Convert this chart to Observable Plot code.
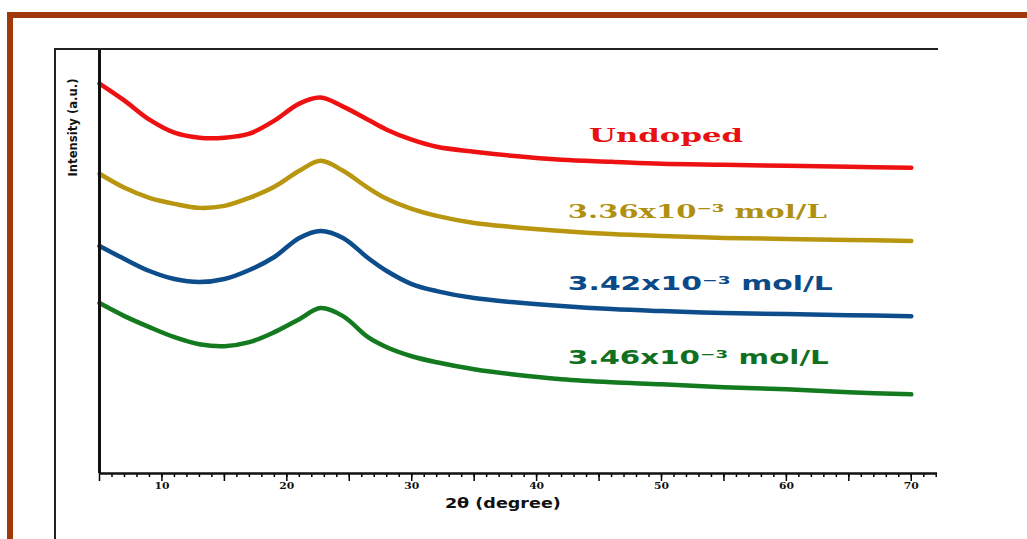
<!DOCTYPE html>
<html><head><meta charset="utf-8">
<script src="https://cdn.jsdelivr.net/npm/d3@7"></script>
<script src="https://cdn.jsdelivr.net/npm/@observablehq/plot@0.6"></script>
<style>
body{margin:0;background:#fff;}
#wrap{position:relative;width:1027px;height:539px;overflow:hidden;background:#fff;}
#wrap svg{position:absolute;left:0;top:0;}
.deco{position:absolute;}
</style></head><body>
<div id="wrap"></div>
<script>
const twoTheta = [5, 7, 9, 11, 13, 15, 17, 19, 21, 22.7, 24.5, 26.5, 28, 30, 32, 35, 38, 42, 46, 50, 55, 60, 65, 70];
// intensities (a.u., stacked/offset as in the figure)
const undoped = [389, 372, 353, 340, 335, 335, 339, 352, 369, 375, 366, 353, 343, 333, 326, 321, 317, 313, 311, 309, 308, 307, 306, 305];
const c336 = [299, 285, 275, 269, 265, 267, 275, 286, 302, 312, 302, 285, 274, 264, 257, 250, 246, 242, 239, 237, 235, 234, 233, 232];
const c342 = [227, 214, 202, 194, 191, 194, 203, 216, 235, 242, 235, 215, 202, 189, 182, 175, 171, 167, 164, 162, 160, 159, 158, 157];
const c346 = [170, 157, 146, 136, 129, 127, 131, 141, 154, 165, 157, 136, 126, 117, 111, 104, 99, 94, 91, 89, 86, 84, 81, 79];

const seriesNames = ["Undoped", "3.36x10⁻³ mol/L", "3.42x10⁻³ mol/L", "3.46x10⁻³ mol/L"];
const seriesColors = ["#ee1111", "#b8960f", "#0d4d8c", "#137a1f"];
const labelColors = ["#e81010", "#b09010", "#0b4a88", "#107020"];
const labelX = [44.2, 42.5, 42.5, 42.5];
const labelY = [337, 261, 189, 115];
const labelFonts = ["DejaVu Serif", "DejaVu Serif", "DejaVu Sans", "DejaVu Sans"];
const labelWidths = [154, 259, 265, 261];
const majorTicks = [10, 20, 30, 40, 50, 60, 70];

const seriesValues = [undoped, c336, c342, c346];
const rows = seriesValues.flatMap((vals, s) => twoTheta.map((t, i) => ({t, v: vals[i], name: seriesNames[s]})));
const labels = seriesNames.map((n, i) => ({n, x: labelX[i], y: labelY[i]}));
const noText = () => "";

const chart = Plot.plot({
  width: 1027, height: 539,
  marginLeft: 99, marginRight: 90, marginTop: 49, marginBottom: 66,
  style: {background: "transparent", overflow: "visible"},
  x: {domain: [5, 72.1], label: null},
  y: {domain: [0, 423], axis: null},
  color: {domain: seriesNames, range: seriesColors},
  marks: [
    Plot.line(rows, {x: "t", y: "v", z: "name", stroke: "name", strokeWidth: 4.5, curve: "catmull-rom"}),
    Plot.axisX(d3.range(6, 73), {tickSize: 4, tickFormat: noText, strokeWidth: 1.5, label: null}),
    Plot.axisX(d3.range(5, 72, 5), {tickSize: 8, tickFormat: noText, strokeWidth: 1.5, label: null}),
    Plot.axisX(majorTicks, {tickSize: 0, tickPadding: 9, fontSize: 9.5, fontWeight: "bold", fontFamily: "DejaVu Serif", fill: "#111", label: null}),
    Plot.ruleY([0], {strokeWidth: 2.5, stroke: "#111"}),
    Plot.ruleX([5], {strokeWidth: 3, stroke: "#111"}),
    Plot.text(["2θ (degree)"], {x: 37.3, frameAnchor: "bottom", dy: 30, fontSize: 14, fontWeight: "bold", fontFamily: "DejaVu Sans", fill: "#111", lineAnchor: "middle"}),
    Plot.text(["Intensity (a.u.)"], {frameAnchor: "top-left", rotate: -90, dx: -26, dy: 29, textAnchor: "end", fontSize: 11.5, fontWeight: "bold", fontFamily: "DejaVu Sans", fill: "#111", lineAnchor: "middle"}),
    Plot.text(labels, {x: "x", y: "y", text: "n", fontSize: 19, fontWeight: "bold", textAnchor: "start", lineAnchor: "middle"})
  ]
});
const wrap = document.getElementById("wrap");
wrap.appendChild(chart);
const svg = d3.select(chart);
const textGroups = svg.selectAll("g[aria-label=text]").nodes();
// series labels: colour, font and the wide lettering of the figure
d3.select(textGroups[textGroups.length - 1]).selectAll("text").each(function(_, i) {
  d3.select(this).attr("font-family", labelFonts[i]).attr("fill", labelColors[i])
    .attr("textLength", labelWidths[i]).attr("lengthAdjust", "spacingAndGlyphs");
});
d3.select(textGroups[textGroups.length - 3]).selectAll("text")
  .attr("textLength", 116).attr("lengthAdjust", "spacingAndGlyphs");
d3.select(textGroups[textGroups.length - 2]).selectAll("text")
  .attr("textLength", 98).attr("lengthAdjust", "spacingAndGlyphs");
// wide tick numerals
svg.selectAll("g[aria-label='x-axis tick label'] text").filter(function() { return this.textContent.length > 0; })
  .attr("textLength", 15).attr("lengthAdjust", "spacingAndGlyphs");

// figure decorations: brown page border and thin frame
const decos = [
  "left:7px;top:12px;width:1020px;height:6px;background:#a0380a",
  "left:7px;top:12px;width:6px;height:527px;background:#a0380a",
  "left:54px;top:48px;width:884px;height:1.5px;background:#222",
  "left:54px;top:48px;width:1.5px;height:491px;background:#222"
];
decos.forEach(s => { const d = document.createElement("div"); d.className = "deco"; d.style.cssText = s; wrap.appendChild(d); });
</script>
</body></html>
